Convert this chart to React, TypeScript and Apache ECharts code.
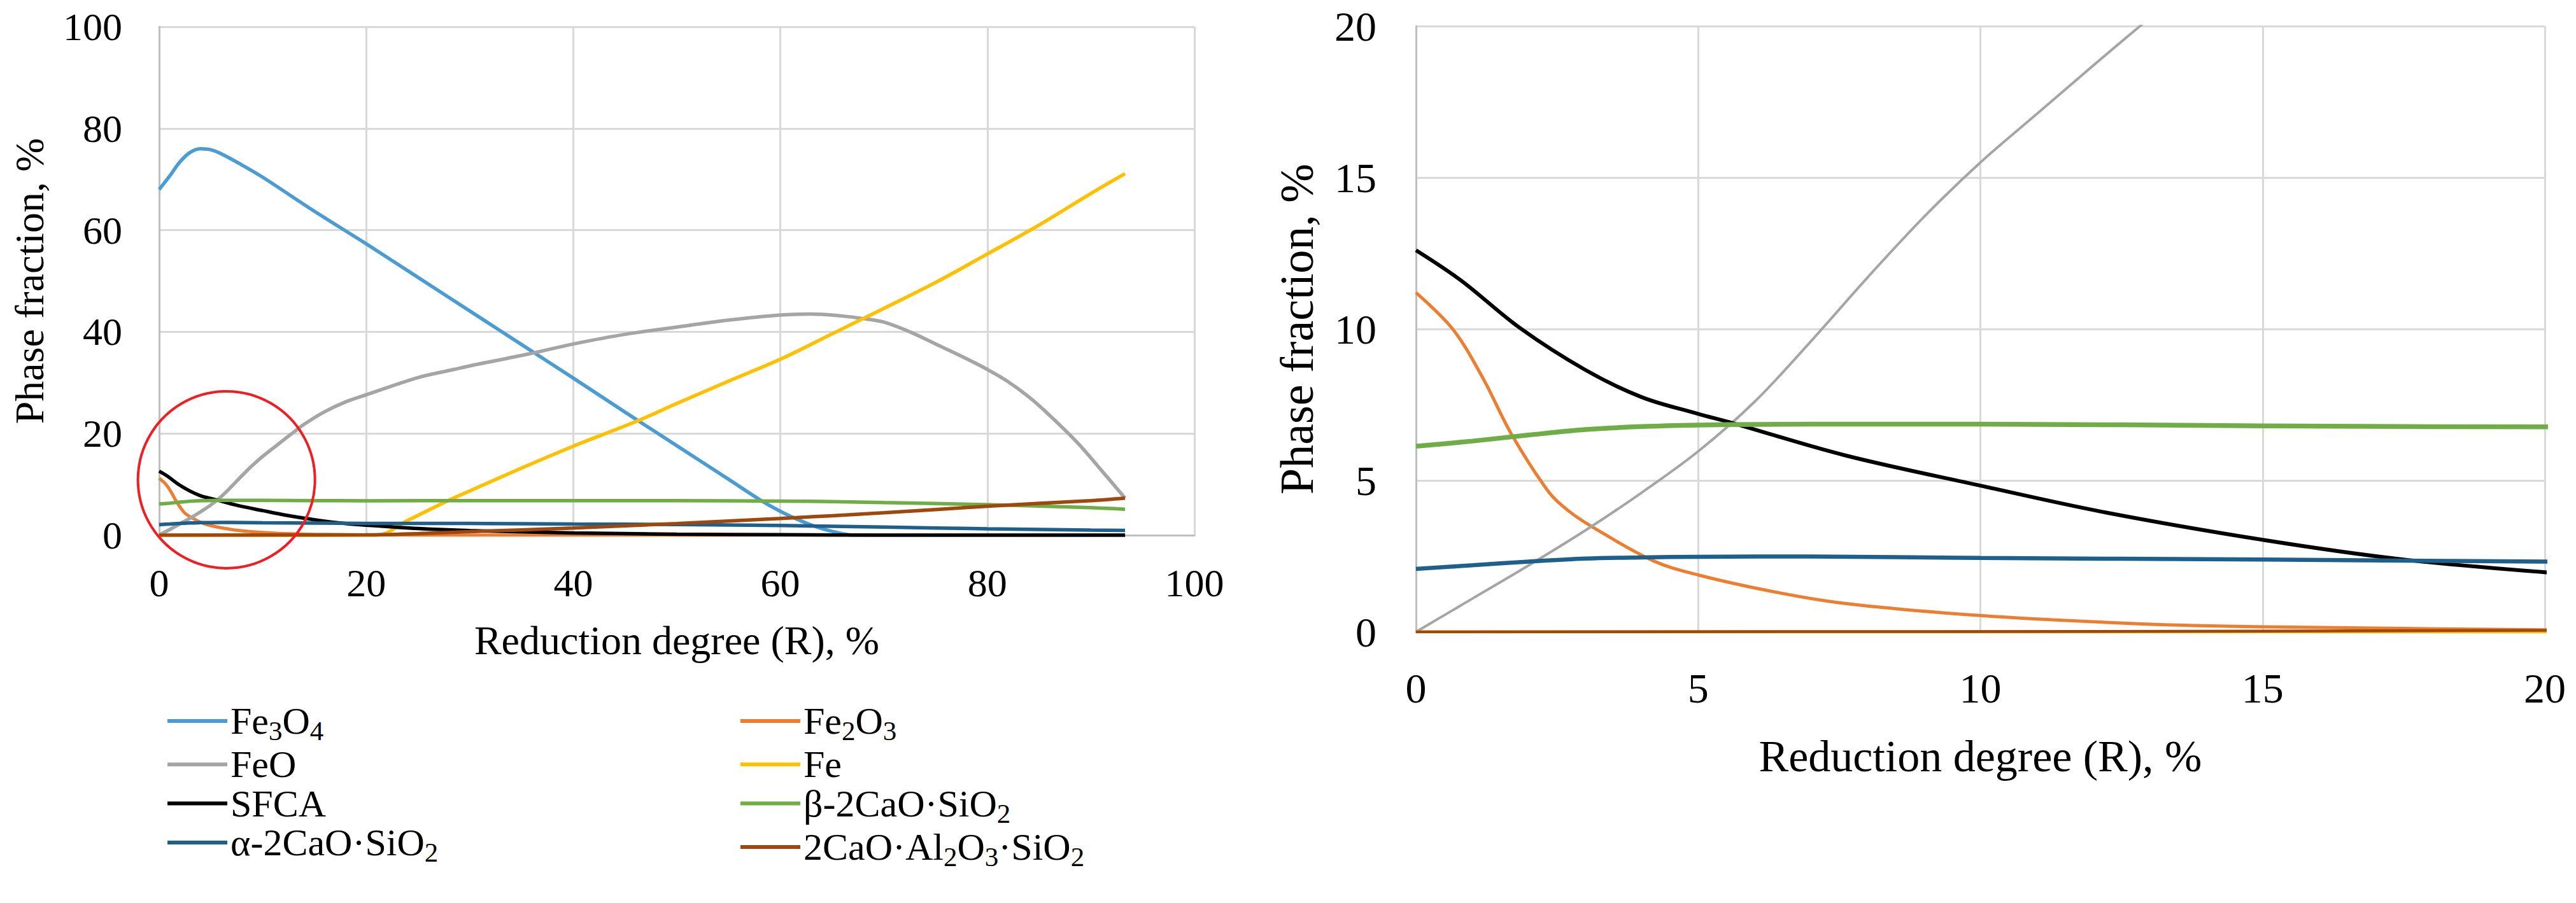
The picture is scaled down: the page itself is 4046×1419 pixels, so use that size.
import React, { useEffect, useRef } from 'react';
import * as echarts from 'echarts';

// ---- data ----
const FE3O4_X = [0, 1, 2, 3, 4, 5, 6, 8, 10, 15, 20, 25, 30, 35, 40, 45, 50, 55, 58, 60, 62, 64, 66, 67, 80, 93.3];
const FE3O4_Y = [68, 70.6, 73.4, 75.3, 76, 75.8, 75, 72.8, 70.4, 63.7, 57.3, 50.7, 44.1, 37.5, 30.9, 24.2, 17.6, 11, 7, 4.7, 2.8, 1.3, 0.3, 0, 0, 0];

const FE2O3_X = [0, 0.65, 1.18, 1.7, 2.36, 2.7, 3.14, 4.2, 5, 6.3, 7.6, 10, 12.8, 15, 20, 25, 93.3];
const FE2O3_Y = [11.2, 10, 8.4, 6.5, 4.6, 4.0, 3.45, 2.35, 1.88, 1.34, 0.94, 0.54, 0.27, 0.17, 0.07, 0, 0];

const FEO_X = [0, 1, 2, 3, 4, 5, 6, 7, 8, 9, 10, 11, 12, 12.7, 14, 16, 18, 20, 25, 28.5, 30, 35.6, 40, 45, 51, 55, 60, 63, 66, 68, 70, 72.5, 75, 78, 80, 82, 84, 86, 88.7, 91, 93.3];
const FEO_Y = [0, 1.1, 2.2, 3.35, 4.6, 5.96, 7.6, 9.6, 11.7, 13.7, 15.5, 17.1, 18.7, 19.8, 21.8, 24.3, 26.2, 27.6, 31, 32.6, 33.3, 35.6, 37.6, 39.5, 41.2, 42.3, 43.3, 43.5, 43.1, 42.6, 41.9, 40.0, 37.6, 34.7, 32.6, 30.2, 27.2, 23.6, 18.2, 12.8, 7.3];

const FE_X = [0, 21, 24, 27.8, 30, 35, 40, 46, 50, 55, 60, 65, 68, 70, 75, 80, 85, 90, 93.3];
const FE_Y = [0, 0, 2.9, 6.7, 8.7, 13.2, 17.5, 22.3, 25.9, 30.3, 34.6, 39.6, 42.6, 44.6, 49.7, 55.3, 61, 67.2, 71.1];

const SFCA_X = [0, 0.8, 1.83, 3, 4, 5, 5.6, 7.6, 10, 12.2, 15, 17.4, 20, 25, 30, 40, 50, 60, 70, 93.3];
const SFCA_Y = [12.6, 11.6, 10.05, 8.65, 7.75, 7.2, 6.9, 5.83, 4.83, 3.95, 3.04, 2.41, 1.97, 1.3, 0.9, 0.45, 0.2, 0.08, 0, 0];

const BETA_X = [0, 1, 2, 3, 4, 5, 6, 8, 10, 15, 20, 30, 40, 50, 60, 65, 70, 80, 90, 93.3];
const BETA_Y = [6.13, 6.3, 6.5, 6.68, 6.78, 6.83, 6.85, 6.86, 6.86, 6.8, 6.77, 6.8, 6.8, 6.8, 6.7, 6.6, 6.4, 6.0, 5.4, 5.1];

const ALPHA_X = [0, 1, 2, 3, 4, 5, 7, 10, 15, 20, 30, 40, 50, 60, 70, 80, 90, 93.3];
const ALPHA_Y = [2.08, 2.2, 2.32, 2.42, 2.46, 2.48, 2.49, 2.44, 2.39, 2.32, 2.3, 2.2, 2.1, 1.9, 1.6, 1.25, 1.0, 0.95];

const C2AS_X = [0, 20, 25, 30, 40, 50, 60, 70, 80, 90, 93.3];
const C2AS_Y = [0, 0.05, 0.3, 0.7, 1.4, 2.3, 3.3, 4.4, 5.7, 6.8, 7.3];

const SERIES_NAMES = ['Fe3O4', 'Fe2O3', 'FeO', 'Fe', 'SFCA', 'β-2CaO·SiO2', 'α-2CaO·SiO2', '2CaO·Al2O3·SiO2'];
const SERIES_COLORS = ['#4B9CD3', '#ED7D31', '#A5A5A5', '#FFC000', '#000000', '#70AD47', '#1F5F8B', '#9E480E'];
const SERIES_XS = [FE3O4_X, FE2O3_X, FEO_X, FE_X, SFCA_X, BETA_X, ALPHA_X, C2AS_X];
const SERIES_YS = [FE3O4_Y, FE2O3_Y, FEO_Y, FE_Y, SFCA_Y, BETA_Y, ALPHA_Y, C2AS_Y];

const LEGEND_RICH: Record<string, string> = {
  'Fe3O4': '{n|Fe}{s|3}{n|O}{s|4}',
  'Fe2O3': '{n|Fe}{s|2}{n|O}{s|3}',
  'FeO': '{n|FeO}',
  'Fe': '{n|Fe}',
  'SFCA': '{n|SFCA}',
  'β-2CaO·SiO2': '{n|β-2CaO·SiO}{s|2}',
  'α-2CaO·SiO2': '{n|α-2CaO·SiO}{s|2}',
  '2CaO·Al2O3·SiO2': '{n|2CaO·Al}{s|2}{n|O}{s|3}{n|·SiO}{s|2}',
};

const LEFT_X_TICKS = { min: 0, max: 100, interval: 20 };
const LEFT_Y_TICKS = { min: 0, max: 100, interval: 20 };
const RIGHT_X_TICKS = { min: 0, max: 20, interval: 5 };
const RIGHT_Y_TICKS = { min: 0, max: 20, interval: 5 };

const CIRCLE_CENTER = [6.5, 10.9];

const X_TITLE = 'Reduction degree (R), %';
const Y_TITLE = 'Phase fraction, %';

const FONT = 'Liberation Serif';
const LEFT_W = [5.5, 5, 5.5, 5.5, 5.5, 5.5, 5.5, 5.5];
const RIGHT_W = [5, 5, 4, 5, 6, 7.5, 6.5, 4.5];

export default function App() {
  const ref = useRef<HTMLDivElement>(null);
  useEffect(() => {
    document.body.style.margin = '0';
    const chart = echarts.init(ref.current!, null, { renderer: 'svg' });

    const gridLine = { show: true, lineStyle: { color: '#D9D9D9', width: 3 } };
    const axisLine = { show: true, lineStyle: { color: '#BFBFBF', width: 3 } };

    const mkAxis = (ticks: any, extra: any) => ({
      type: 'value',
      min: ticks.min,
      max: ticks.max,
      interval: ticks.interval,
      splitLine: gridLine,
      axisLine,
      axisTick: { show: false },
      nameLocation: 'middle',
      ...extra,
    });

    const series: any[] = [];
    for (let g = 0; g < 2; g++) {
      SERIES_NAMES.forEach((name, i) => {
        const xs = SERIES_XS[i];
        const ys = SERIES_YS[i];
        series.push({
          type: 'line',
          name,
          xAxisIndex: g,
          yAxisIndex: g,
          data: xs.map((x, k) => [x, ys[k]]),
          showSymbol: false,
          symbol: 'none',
          smooth: 0.35,
          color: SERIES_COLORS[i],
          itemStyle: { color: SERIES_COLORS[i] },
          lineStyle: { color: SERIES_COLORS[i], width: g === 0 ? LEFT_W[i] : RIGHT_W[i] },
          emphasis: { disabled: true },
          z: 2 + i,
        });
      });
    }

    const legendBase = {
      orient: 'vertical',
      top: 1098,
      itemGap: 1.3,
      itemWidth: 94,
      itemHeight: 6,
      icon: 'rect',
      selectedMode: false,
      formatter: (name: string) => LEGEND_RICH[name] || name,
      textStyle: {
        fontFamily: FONT,
        color: '#000',
        rich: {
          n: { fontFamily: FONT, fontSize: 60, lineHeight: 74, color: '#000' },
          s: { fontFamily: FONT, fontSize: 43, lineHeight: 30, verticalAlign: 'bottom', color: '#000' },
        },
      },
    };

    const option: any = {
      animation: false,
      backgroundColor: '#ffffff',
      textStyle: { fontFamily: FONT },
      grid: [
        { left: 250, top: 42, width: 1626, height: 799 },
        { left: 2224, top: 41, width: 1773, height: 952 },
      ],
      xAxis: [
        mkAxis(LEFT_X_TICKS, {
          gridIndex: 0,
          name: X_TITLE,
          nameGap: 133,
          nameTextStyle: { fontFamily: FONT, fontSize: 64, color: '#000' },
          axisLabel: { margin: 44, fontFamily: FONT, fontSize: 62, color: '#000' },
        }),
        mkAxis(RIGHT_X_TICKS, {
          gridIndex: 1,
          name: X_TITLE,
          nameGap: 160,
          nameTextStyle: { fontFamily: FONT, fontSize: 70, color: '#000' },
          axisLabel: { margin: 55, fontFamily: FONT, fontSize: 66, color: '#000' },
        }),
      ],
      yAxis: [
        mkAxis(LEFT_Y_TICKS, {
          gridIndex: 0,
          name: Y_TITLE,
          nameGap: 172,
          nameTextStyle: { fontFamily: FONT, fontSize: 64, color: '#000' },
          axisLabel: { margin: 58, fontFamily: FONT, fontSize: 62, color: '#000' },
        }),
        mkAxis(RIGHT_Y_TICKS, {
          gridIndex: 1,
          name: Y_TITLE,
          nameGap: 150,
          nameTextStyle: { fontFamily: FONT, fontSize: 74, color: '#000' },
          axisLabel: { margin: 62, fontFamily: FONT, fontSize: 66, color: '#000' },
        }),
      ],
      legend: [
        { ...legendBase, left: 258, data: [SERIES_NAMES[0], SERIES_NAMES[2], SERIES_NAMES[4], SERIES_NAMES[6]] },
        { ...legendBase, left: 1158, data: [SERIES_NAMES[1], SERIES_NAMES[3], SERIES_NAMES[5], SERIES_NAMES[7]] },
      ],
      series,
    };

    chart.setOption(option);
    const p = chart.convertToPixel({ gridIndex: 0 } as any, CIRCLE_CENTER) as number[];
    chart.setOption({
      graphic: [
        {
          type: 'circle',
          shape: { cx: p[0], cy: p[1], r: 139 },
          style: { fill: 'none', stroke: '#F01E23', lineWidth: 4 },
          z: 100,
          silent: true,
        },
      ],
    });

    return () => chart.dispose();
  }, []);
  return <div ref={ref} style={{ width: 4046, height: 1419 }} />;
}
